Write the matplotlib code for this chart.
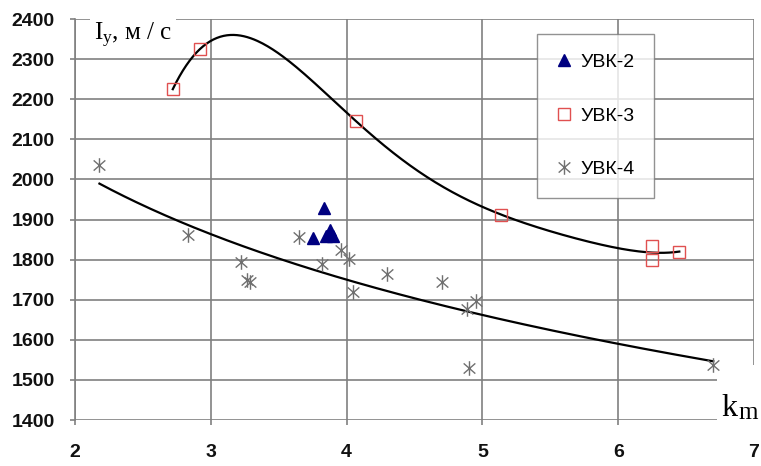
import numpy as np
import matplotlib.pyplot as plt
from matplotlib.path import Path
from matplotlib.patches import Rectangle

plt.rcParams['font.family'] = ['Liberation Sans', 'DejaVu Sans']
plt.rcParams['mathtext.fontset'] = 'custom'
plt.rcParams['mathtext.rm'] = 'Liberation Serif'
plt.rcParams['mathtext.it'] = 'Liberation Serif:italic'

# УВК-2
x_uvk2 = [3.75, 3.83, 3.85, 3.88, 3.90]
y_uvk2 = [1853, 1928, 1858, 1875, 1860]

# УВК-3
x_uvk3 = [2.72, 2.92, 4.07, 5.14, 6.25, 6.25, 6.45]
y_uvk3 = [2225, 2325, 2145, 1912, 1835, 1800, 1820]

# УВК-4
x_uvk4 = [2.18, 2.83, 3.22, 3.27, 3.29, 3.65, 3.82, 3.96, 4.02, 4.05,
          4.30, 4.70, 4.89, 4.90, 4.95, 6.70]
y_uvk4 = [2037, 1862, 1795, 1750, 1743, 1857, 1790, 1825, 1802, 1718,
          1765, 1743, 1678, 1530, 1698, 1537]

x_ticks = [2, 3, 4, 5, 6, 7]
y_ticks = list(range(1400, 2401, 100))

# trend lines
p3 = np.polyfit(x_uvk3, y_uvk3, 5)
xs3 = np.linspace(min(x_uvk3), max(x_uvk3), 300)
ys3 = np.polyval(p3, xs3)

p4 = np.polyfit(np.log(x_uvk4), y_uvk4, 1)
xs4 = np.linspace(min(x_uvk4), max(x_uvk4), 300)
ys4 = np.polyval(p4, np.log(xs4))

# asterisk marker: vertical bar plus two diagonals
star = Path([(0, -1), (0, 1), (-0.8, -0.7), (0.8, 0.7), (-0.8, 0.7), (0.8, -0.7)],
            [Path.MOVETO, Path.LINETO, Path.MOVETO, Path.LINETO, Path.MOVETO, Path.LINETO])

fig = plt.figure(figsize=(7.61, 4.66), dpi=100)
ax = fig.add_axes([75 / 761, 1 - 420 / 466, (754 - 75) / 761, (420 - 19) / 466])

grid_c = '#808080'
tick_font = dict(family=['Liberation Sans Narrow', 'Liberation Sans'],
                 fontweight='bold', fontsize=14)
ax.set_xlim(2, 7)
ax.set_ylim(1400, 2400)
ax.set_xticks(x_ticks, labels=[str(v) for v in x_ticks], **tick_font)
ax.set_yticks(y_ticks, labels=[str(v) for v in y_ticks], **tick_font)
ax.grid(True, color=grid_c, linewidth=1.2)
ax.set_axisbelow(True)
for s in ['top', 'right', 'bottom']:
    ax.spines[s].set_visible(False)
ax.spines['left'].set_color(grid_c)
ax.spines['left'].set_linewidth(1.2)
ax.tick_params(axis='both', colors=grid_c, length=3.5, width=1.2, labelcolor='#111111')
ax.tick_params(axis='x', pad=14)
ax.tick_params(axis='y', pad=11)

# white patch behind the k_m label
ax.add_patch(Rectangle((6.73, 1380), 0.4, 158, facecolor='white', edgecolor='none',
                       zorder=2, clip_on=False))

ax.plot(xs3, ys3, color='black', lw=1.6, zorder=3)
ax.plot(xs4, ys4, color='black', lw=1.6, zorder=3)

ax.plot(x_uvk2, y_uvk2, ls='none', marker='^', ms=9, color='#000080',
        label='УВК-2', zorder=4)
ax.plot(x_uvk3, y_uvk3, ls='none', marker='s', ms=8.5, mfc='none', mec='#e05050',
        mew=1.0, label='УВК-3', zorder=4)
ax.plot(x_uvk4, y_uvk4, ls='none', marker=star, ms=10.5, mfc='none', mec='#707070',
        mew=1.0, label='УВК-4', zorder=4)

leg = ax.legend(loc='upper left', bbox_to_anchor=(537 / 761, 1 - 34 / 466),
                bbox_transform=fig.transFigure, fontsize=14, frameon=True,
                fancybox=False, borderpad=1.0, labelspacing=1.85,
                handlelength=0.8, handletextpad=0.45, borderaxespad=0)
leg.get_frame().set_edgecolor('#777777')
leg.get_frame().set_linewidth(1.0)

ax.text(2.14, 2360, r'$\mathrm{I}_{\mathrm{y}}$, м / с', fontsize=18,
        family='Liberation Serif', va='center', ha='left', zorder=5,
        bbox=dict(facecolor='white', edgecolor='none', pad=3))
ax.text(6.76, 1410, 'k', fontsize=23, family='Liberation Serif', va='baseline',
        ha='left', zorder=5)
ax.text(6.885, 1402, 'm', fontsize=18, family='Liberation Serif', va='baseline',
        ha='left', zorder=6)

fig.savefig('out.png', dpi=100)
